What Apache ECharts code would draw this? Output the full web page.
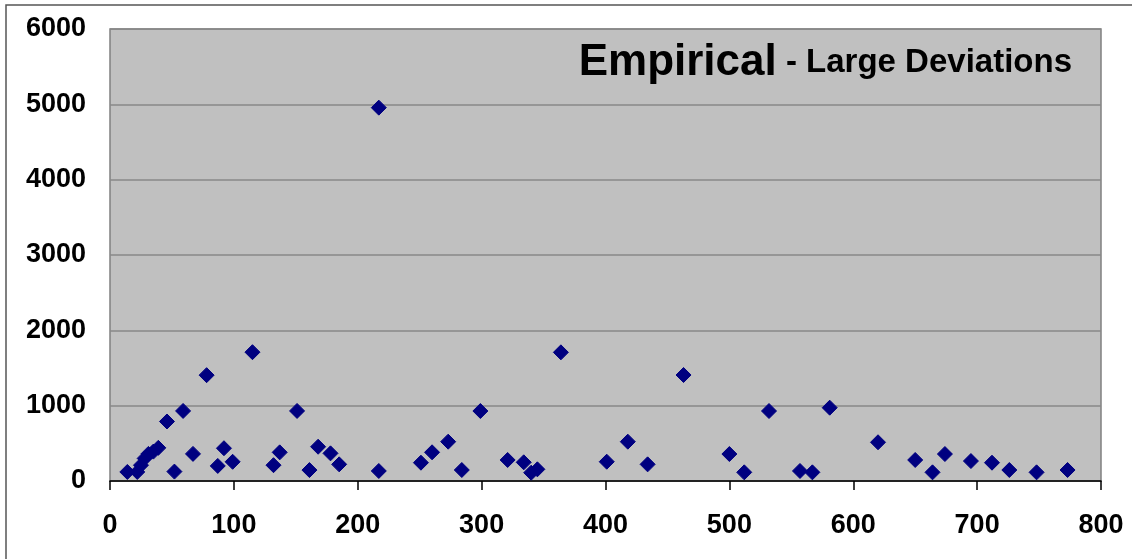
<!DOCTYPE html>
<html>
<head>
<meta charset="utf-8">
<script src="https://cdn.jsdelivr.net/npm/echarts@6/dist/echarts.min.js"></script>
<style>
html,body{margin:0;padding:0;background:#fff;}
#chart{width:1132px;height:559px;}
</style>
</head>
<body>
<div id="chart"></div>
<script>
// Data
var xValues = [14, 22, 25, 28, 31, 35, 39, 46, 52, 59, 67, 78, 87, 92, 99, 115, 132, 137, 151, 161, 168, 178, 185,
  217, 217, 251, 260, 273, 284, 299, 321, 334, 340, 345, 364,
  401, 418, 434, 463, 500, 512, 532, 557, 567, 581,
  620, 650, 664, 674, 695, 712, 726, 748, 773];
var yValues = [120, 120, 210, 300, 360, 390, 440, 790, 125, 930, 360, 1405, 200, 435, 255, 1710, 210, 380, 930, 145, 455, 367, 221,
  133, 4956, 243, 381, 522, 146, 929, 279, 248, 110, 155, 1708,
  256, 522, 221, 1407, 358, 115, 929, 133, 115, 973,
  514, 279, 115, 358, 265, 243, 146, 115, 146];
var titleMain = 'Empirical';
var titleSub = ' - Large Deviations';
var xTicks = {min: 0, max: 800, interval: 100};
var yTicks = {min: 0, max: 6000, interval: 1000};

var points = xValues.map(function (x, i) { return [x, yValues[i]]; });
var font = 'Arial, "Liberation Sans", sans-serif';

var chart = echarts.init(document.getElementById('chart'), null, {renderer: 'canvas'});
chart.setOption({
  animation: false,
  backgroundColor: '#ffffff',
  title: {
    text: '{a|' + titleMain + '}{b|' + titleSub + '}',
    right: 55,
    top: 36,
    textStyle: {
      rich: {
        a: {fontFamily: font, fontWeight: 'bold', fontSize: 44, color: '#000'},
        b: {fontFamily: font, fontWeight: 'bold', fontSize: 33, color: '#000'}
      }
    }
  },
  graphic: [{
    type: 'rect',
    shape: {x: 6, y: 5, width: 1200, height: 700},
    style: {fill: 'none', stroke: '#555', lineWidth: 1.5},
    silent: true,
    z: -1
  }],
  grid: {
    left: 110, right: 31, top: 29, bottom: 78,
    show: true,
    backgroundColor: '#C0C0C0',
    borderColor: '#808080',
    borderWidth: 1.5
  },
  xAxis: {
    type: 'value',
    min: xTicks.min, max: xTicks.max, interval: xTicks.interval,
    axisLine: {show: true, onZero: false, lineStyle: {color: '#000', width: 1.5}},
    axisTick: {show: true, length: 9, inside: false, lineStyle: {color: '#000', width: 1.5}},
    splitLine: {show: false},
    axisLabel: {fontFamily: font, fontWeight: 'bold', fontSize: 27, color: '#000', margin: 31,
      formatter: function (v) { return String(v); }}
  },
  yAxis: {
    type: 'value',
    min: yTicks.min, max: yTicks.max, interval: yTicks.interval,
    axisLine: {show: false},
    axisTick: {show: false},
    splitLine: {show: true, lineStyle: {color: '#888', width: 1.5}},
    axisLabel: {fontFamily: font, fontWeight: 'bold', fontSize: 27, color: '#000', margin: 24,
      formatter: function (v) { return String(v); }}
  },
  series: [{
    type: 'scatter',
    symbol: 'diamond',
    symbolSize: 15,
    itemStyle: {color: '#000080', borderColor: '#000080', borderWidth: 1, opacity: 1},
    data: points
  }]
});
</script>
</body>
</html>
